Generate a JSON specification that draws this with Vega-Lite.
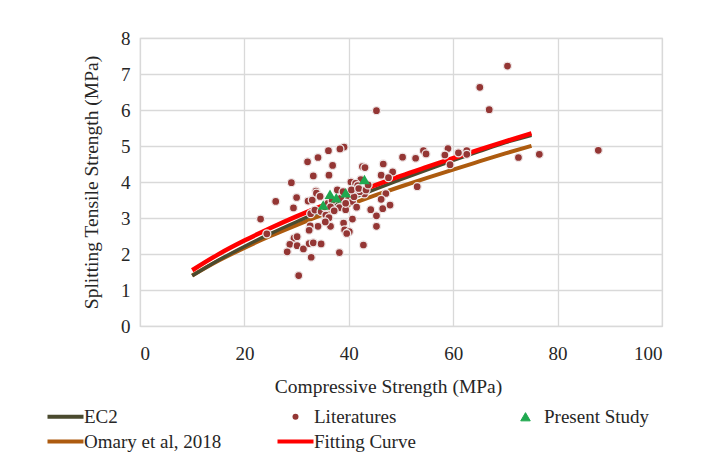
{
  "$schema": "https://vega.github.io/schema/vega-lite/v6.json",
  "width": 522,
  "height": 288,
  "autosize": {"type": "none"},
  "padding": {"left": 140, "top": 38, "right": 42, "bottom": 134},
  "background": "white",
  "config": {
    "view": {"stroke": "#d9d9d9", "strokeWidth": 1.2},
    "axis": {
      "labelFont": "Liberation Serif", "titleFont": "Liberation Serif",
      "labelFontSize": 19, "titleFontSize": 19.5, "labelColor": "#262626", "titleColor": "#262626",
      "titleFontWeight": "normal", "gridColor": "#d9d9d9", "gridWidth": 1.3, "domain": false, "ticks": false
    }
  },
  "datasets": {
    "curves": [
      {"x": 10, "y": 1.401, "s": "Omary et al, 2018"}, {"x": 15, "y": 1.81, "s": "Omary et al, 2018"}, {"x": 20, "y": 2.171, "s": "Omary et al, 2018"}, {"x": 25, "y": 2.5, "s": "Omary et al, 2018"}, {"x": 30, "y": 2.804, "s": "Omary et al, 2018"}, {"x": 35, "y": 3.093, "s": "Omary et al, 2018"}, {"x": 40, "y": 3.365, "s": "Omary et al, 2018"}, {"x": 45, "y": 3.626, "s": "Omary et al, 2018"}, {"x": 50, "y": 3.875, "s": "Omary et al, 2018"}, {"x": 55, "y": 4.114, "s": "Omary et al, 2018"}, {"x": 60, "y": 4.346, "s": "Omary et al, 2018"}, {"x": 65, "y": 4.571, "s": "Omary et al, 2018"}, {"x": 70, "y": 4.794, "s": "Omary et al, 2018"}, {"x": 75, "y": 5.003, "s": "Omary et al, 2018"},
      {"x": 10, "y": 1.393, "s": "EC2"}, {"x": 15, "y": 1.825, "s": "EC2"}, {"x": 20, "y": 2.21, "s": "EC2"}, {"x": 25, "y": 2.565, "s": "EC2"}, {"x": 30, "y": 2.896, "s": "EC2"}, {"x": 35, "y": 3.21, "s": "EC2"}, {"x": 40, "y": 3.509, "s": "EC2"}, {"x": 45, "y": 3.796, "s": "EC2"}, {"x": 50, "y": 4.072, "s": "EC2"}, {"x": 55, "y": 4.339, "s": "EC2"}, {"x": 60, "y": 4.598, "s": "EC2"}, {"x": 65, "y": 4.851, "s": "EC2"}, {"x": 70, "y": 5.095, "s": "EC2"}, {"x": 75, "y": 5.3, "s": "EC2"},
      {"x": 10, "y": 1.549, "s": "Fitting Curve"}, {"x": 15, "y": 1.989, "s": "Fitting Curve"}, {"x": 20, "y": 2.372, "s": "Fitting Curve"}, {"x": 25, "y": 2.722, "s": "Fitting Curve"}, {"x": 30, "y": 3.046, "s": "Fitting Curve"}, {"x": 35, "y": 3.346, "s": "Fitting Curve"}, {"x": 40, "y": 3.636, "s": "Fitting Curve"}, {"x": 45, "y": 3.907, "s": "Fitting Curve"}, {"x": 50, "y": 4.17, "s": "Fitting Curve"}, {"x": 55, "y": 4.418, "s": "Fitting Curve"}, {"x": 60, "y": 4.662, "s": "Fitting Curve"}, {"x": 65, "y": 4.899, "s": "Fitting Curve"}, {"x": 70, "y": 5.129, "s": "Fitting Curve"}, {"x": 75, "y": 5.35, "s": "Fitting Curve"}
    ],
    "lit": [
      {"x": 45.3, "y": 5.98, "s": "Literatures"}, {"x": 39.1, "y": 4.97, "s": "Literatures"}, {"x": 38.3, "y": 4.92, "s": "Literatures"}, {"x": 36.1, "y": 4.87, "s": "Literatures"}, {"x": 54.3, "y": 4.87, "s": "Literatures"}, {"x": 54.8, "y": 4.78, "s": "Literatures"}, {"x": 34.1, "y": 4.68, "s": "Literatures"}, {"x": 32.1, "y": 4.56, "s": "Literatures"}, {"x": 50.3, "y": 4.69, "s": "Literatures"}, {"x": 52.8, "y": 4.66, "s": "Literatures"},
      {"x": 36.9, "y": 4.46, "s": "Literatures"}, {"x": 46.6, "y": 4.5, "s": "Literatures"}, {"x": 42.6, "y": 4.43, "s": "Literatures"}, {"x": 43.1, "y": 4.4, "s": "Literatures"}, {"x": 36.2, "y": 4.19, "s": "Literatures"}, {"x": 33.2, "y": 4.17, "s": "Literatures"}, {"x": 48.4, "y": 4.28, "s": "Literatures"}, {"x": 46.2, "y": 4.19, "s": "Literatures"}, {"x": 47.6, "y": 4.12, "s": "Literatures"}, {"x": 42.3, "y": 4.07, "s": "Literatures"},
      {"x": 40.4, "y": 4.0, "s": "Literatures"}, {"x": 41.3, "y": 3.96, "s": "Literatures"}, {"x": 29.0, "y": 3.98, "s": "Literatures"}, {"x": 53.1, "y": 3.87, "s": "Literatures"}, {"x": 41.7, "y": 3.9, "s": "Literatures"}, {"x": 33.7, "y": 3.75, "s": "Literatures"}, {"x": 26.0, "y": 3.46, "s": "Literatures"}, {"x": 30.0, "y": 3.57, "s": "Literatures"}, {"x": 32.2, "y": 3.47, "s": "Literatures"}, {"x": 29.4, "y": 3.28, "s": "Literatures"},
      {"x": 23.1, "y": 2.97, "s": "Literatures"}, {"x": 24.3, "y": 2.56, "s": "Literatures"}, {"x": 32.7, "y": 3.12, "s": "Literatures"}, {"x": 33.5, "y": 3.22, "s": "Literatures"}, {"x": 34.7, "y": 3.18, "s": "Literatures"}, {"x": 35.6, "y": 3.08, "s": "Literatures"}, {"x": 38.2, "y": 3.29, "s": "Literatures"}, {"x": 39.4, "y": 3.23, "s": "Literatures"}, {"x": 40.7, "y": 2.97, "s": "Literatures"}, {"x": 39.0, "y": 2.86, "s": "Literatures"},
      {"x": 36.2, "y": 3.01, "s": "Literatures"}, {"x": 36.5, "y": 2.77, "s": "Literatures"}, {"x": 35.5, "y": 2.89, "s": "Literatures"}, {"x": 34.1, "y": 2.77, "s": "Literatures"}, {"x": 32.6, "y": 2.78, "s": "Literatures"}, {"x": 32.4, "y": 2.66, "s": "Literatures"}, {"x": 39.2, "y": 2.67, "s": "Literatures"}, {"x": 40.1, "y": 2.62, "s": "Literatures"}, {"x": 39.6, "y": 2.57, "s": "Literatures"}, {"x": 45.3, "y": 2.77, "s": "Literatures"},
      {"x": 45.3, "y": 3.06, "s": "Literatures"}, {"x": 44.2, "y": 3.23, "s": "Literatures"}, {"x": 46.5, "y": 3.26, "s": "Literatures"}, {"x": 47.9, "y": 3.36, "s": "Literatures"}, {"x": 47.1, "y": 3.68, "s": "Literatures"}, {"x": 46.2, "y": 3.52, "s": "Literatures"}, {"x": 43.0, "y": 3.67, "s": "Literatures"}, {"x": 42.1, "y": 3.73, "s": "Literatures"}, {"x": 29.5, "y": 2.44, "s": "Literatures"}, {"x": 30.1, "y": 2.48, "s": "Literatures"},
      {"x": 28.7, "y": 2.27, "s": "Literatures"}, {"x": 30.1, "y": 2.23, "s": "Literatures"}, {"x": 31.3, "y": 2.14, "s": "Literatures"}, {"x": 32.4, "y": 2.29, "s": "Literatures"}, {"x": 33.2, "y": 2.31, "s": "Literatures"}, {"x": 34.7, "y": 2.28, "s": "Literatures"}, {"x": 28.2, "y": 2.06, "s": "Literatures"}, {"x": 32.8, "y": 1.91, "s": "Literatures"}, {"x": 38.2, "y": 2.04, "s": "Literatures"}, {"x": 42.8, "y": 2.25, "s": "Literatures"},
      {"x": 30.4, "y": 1.4, "s": "Literatures"}, {"x": 59.0, "y": 4.93, "s": "Literatures"}, {"x": 58.4, "y": 4.75, "s": "Literatures"}, {"x": 61.0, "y": 4.81, "s": "Literatures"}, {"x": 62.6, "y": 4.87, "s": "Literatures"}, {"x": 62.6, "y": 4.77, "s": "Literatures"}, {"x": 59.4, "y": 4.48, "s": "Literatures"}, {"x": 72.5, "y": 4.68, "s": "Literatures"}, {"x": 76.5, "y": 4.77, "s": "Literatures"}, {"x": 87.8, "y": 4.88, "s": "Literatures"},
      {"x": 70.4, "y": 7.22, "s": "Literatures"}, {"x": 65.1, "y": 6.63, "s": "Literatures"}, {"x": 66.9, "y": 6.01, "s": "Literatures"},
      {"x": 33.0, "y": 3.5, "s": "Literatures"}, {"x": 33.8, "y": 3.69, "s": "Literatures"}, {"x": 35.4, "y": 3.31, "s": "Literatures"}, {"x": 36.0, "y": 3.41, "s": "Literatures"}, {"x": 36.8, "y": 3.48, "s": "Literatures"}, {"x": 38.5, "y": 3.55, "s": "Literatures"}, {"x": 39.9, "y": 3.5, "s": "Literatures"}, {"x": 40.7, "y": 3.46, "s": "Literatures"}, {"x": 41.0, "y": 3.59, "s": "Literatures"}, {"x": 40.5, "y": 3.78, "s": "Literatures"},
      {"x": 41.9, "y": 3.82, "s": "Literatures"}, {"x": 43.3, "y": 3.78, "s": "Literatures"}, {"x": 43.7, "y": 3.92, "s": "Literatures"}, {"x": 36.5, "y": 3.31, "s": "Literatures"}, {"x": 39.4, "y": 3.41, "s": "Literatures"}, {"x": 37.8, "y": 3.78, "s": "Literatures"}, {"x": 38.9, "y": 3.73, "s": "Literatures"}, {"x": 34.5, "y": 3.6, "s": "Literatures"}, {"x": 37.2, "y": 3.2, "s": "Literatures"}, {"x": 41.5, "y": 3.3, "s": "Literatures"}
    ],
    "ps": [
      {"x": 35.1, "y": 3.36, "s": "Present Study"}, {"x": 36.4, "y": 3.66, "s": "Present Study"}, {"x": 37.6, "y": 3.56, "s": "Present Study"}, {"x": 39.4, "y": 3.7, "s": "Present Study"}, {"x": 43.0, "y": 4.07, "s": "Present Study"}
    ]
  },
  "encoding": {
    "x": {"field": "x", "type": "quantitative", "scale": {"domain": [0, 100], "nice": false},
      "axis": {"values": [0, 20, 40, 60, 80, 100], "title": "Compressive Strength (MPa)", "labelPadding": 18, "titlePadding": 14, "titleX": 248}},
    "y": {"field": "y", "type": "quantitative", "scale": {"domain": [0, 8], "nice": false},
      "axis": {"values": [0, 1, 2, 3, 4, 5, 6, 7, 8], "title": "Splitting Tensile Strength  (MPa)", "labelPadding": 10, "titlePadding": 19}}
  },
  "layer": [
    {
      "data": {"name": "curves"},
      "transform": [{"filter": "datum.s === 'Omary et al, 2018'"}],
      "mark": {"type": "line", "strokeWidth": 4, "interpolate": "monotone"},
      "encoding": {
        "color": {"field": "s", "type": "nominal",
          "scale": {"domain": ["EC2", "Literatures", "Present Study", "Omary et al, 2018", "Fitting Curve"], "range": ["#4a4a2e", "#943634", "#1fa84f", "#ad5b0f", "#ff0000"]},
          "legend": {"title": null, "orient": "none", "direction": "horizontal", "legendX": -84, "legendY": 369, "columns": 3, "gridAlign": "all", "columnPadding": 47, "rowPadding": 5,
            "symbolSize": 1296, "symbolType": "stroke", "symbolStrokeWidth": 4, "labelFont": "Liberation Serif", "labelFontSize": 19, "labelColor": "#262626", "labelOffset": 9,
            "encode": {"symbols": {"update": {
              "size": {"signal": "datum.value === 'Literatures' ? 36 : datum.value === 'Present Study' ? 90 : 1296"},
              "strokeWidth": {"signal": "datum.value === 'Literatures' ? 0 : datum.value === 'Present Study' ? 1 : 4"},
              "fill": {"signal": "datum.value === 'Literatures' ? '#943634' : datum.value === 'Present Study' ? '#1fa84f' : 'transparent'"},
              "stroke": {"signal": "datum.value === 'Present Study' ? '#e03030' : scale('color', datum.value)"},
              "opacity": {"value": 1}
            }}}}
        }
      }
    },
    {
      "data": {"name": "curves"},
      "transform": [{"filter": "datum.s === 'EC2'"}],
      "mark": {"type": "line", "strokeWidth": 3.5, "interpolate": "monotone"},
      "encoding": {"color": {"field": "s", "type": "nominal"}}
    },
    {
      "data": {"name": "curves"},
      "transform": [{"filter": "datum.s === 'Fitting Curve'"}],
      "mark": {"type": "line", "strokeWidth": 4.5, "interpolate": "monotone"},
      "encoding": {"color": {"field": "s", "type": "nominal"}}
    },
    {
      "data": {"name": "lit"},
      "mark": {"type": "point", "filled": true, "size": 64, "stroke": "#eee6e6", "strokeWidth": 1.3, "opacity": 1},
      "encoding": {
        "color": {"field": "s", "type": "nominal"},
        "shape": {"field": "s", "type": "nominal",
          "scale": {"domain": ["EC2", "Literatures", "Present Study", "Omary et al, 2018", "Fitting Curve"], "range": ["stroke", "circle", "triangle-up", "stroke", "stroke"]}}
      }
    },
    {
      "data": {"name": "ps"},
      "mark": {"type": "point", "filled": true, "size": 120, "opacity": 1},
      "encoding": {
        "color": {"field": "s", "type": "nominal"},
        "shape": {"field": "s", "type": "nominal"}
      }
    }
  ]
}
